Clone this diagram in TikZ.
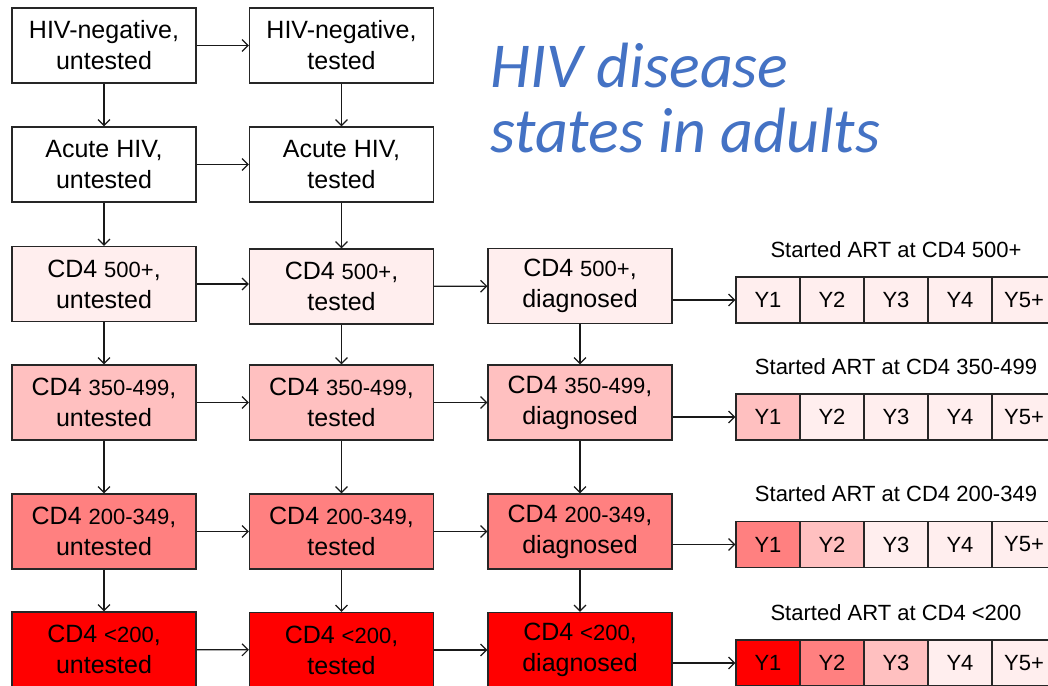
\documentclass[tikz,border=0pt]{standalone}
\usepackage{fontspec}
\setmainfont{Liberation Sans}
\newfontfamily\titlefont{Carlito}
\usetikzlibrary{arrows.meta}
\definecolor{cA}{HTML}{FFEEEE}
\definecolor{cB}{HTML}{FFC0C0}
\definecolor{cC}{HTML}{FF8080}
\definecolor{cD}{HTML}{FF0000}
\definecolor{titleblue}{HTML}{4472C4}
\newcommand\smallnum[1]{{\fontsize{22}{31}\selectfont #1}}
\begin{document}
\begin{tikzpicture}[x=1pt,y=-1pt,
  box/.style={draw=black!85, line width=1.2pt, minimum width=184pt, minimum height=75pt,
    align=center, font=\fontsize{25}{31}\selectfont, inner sep=0pt},
  ycell/.style={draw=black!85, line width=1.2pt, minimum width=64pt, minimum height=46pt,
    font=\fontsize{22}{25}\selectfont, inner sep=0pt},
  lab/.style={font=\fontsize{22}{25}\selectfont, inner sep=0pt},
  arr/.style={-{Straight Barb[length=6pt,width=12pt]}, line width=1.2pt, draw=black!90},
  ttl/.style={anchor=base west, text=titleblue, inner sep=0pt,
    font=\titlefont\itshape\fontsize{64}{64}\selectfont}]
\useasboundingbox (0,0) rectangle (1048,685);
\clip (0,0) rectangle (1048,685);
\fill[white] (0,0) rectangle (1048,685);

% title
\node[ttl] (t1) at (490,87) {HIV disease};
\node[ttl] (t2) at (490,152) {states in adults};

% column 1
\node[box] (a1) at (104,45.5) {HIV-negative,\\untested};
\node[box] (a2) at (104,164.5) {Acute HIV,\\untested};
\node[box, fill=cA] (a3) at (104,284) {CD4 \smallnum{500+},\\untested};
\node[box, fill=cB] (a4) at (104,402.5) {CD4 \smallnum{350-499},\\untested};
\node[box, fill=cC] (a5) at (104,531.5) {CD4 \smallnum{200-349},\\untested};
\node[box, fill=cD] (a6) at (104,649.5) {CD4 \smallnum{<200},\\untested};

% column 2
\node[box] (b1) at (341.5,45.5) {HIV-negative,\\tested};
\node[box] (b2) at (341.5,164.5) {Acute HIV,\\tested};
\node[box, fill=cA] (b3) at (341.5,286.5) {CD4 \smallnum{500+},\\tested};
\node[box, fill=cB] (b4) at (341.5,402.5) {CD4 \smallnum{350-499},\\tested};
\node[box, fill=cC] (b5) at (341.5,531.5) {CD4 \smallnum{200-349},\\tested};
\node[box, fill=cD] (b6) at (341.5,650) {CD4 \smallnum{<200},\\tested};

% column 3
\node[box, fill=cA] (c3) at (580,286) {CD4 \smallnum{500+},\\diagnosed};
\node[box, fill=cB] (c4) at (580,402.5) {CD4 \smallnum{350-499},\\diagnosed};
\node[box, fill=cC] (c5) at (580,531.5) {CD4 \smallnum{200-349},\\diagnosed};
\node[box, fill=cD] (c6) at (580,650) {CD4 \smallnum{<200},\\diagnosed};

% ART labels
\node[lab] (l3) at (896,250) {Started ART at CD4 500+};
\node[lab] (l4) at (896,367) {Started ART at CD4 350-499};
\node[lab] (l5) at (896,494) {Started ART at CD4 200-349};
\node[lab] (l6) at (896,613) {Started ART at CD4 <200};

% Y cells row 3
\node[ycell, fill=cA] (y31) at (768,300) {Y1};
\node[ycell, fill=cA] (y32) at (832,300) {Y2};
\node[ycell, fill=cA] (y33) at (896,300) {Y3};
\node[ycell, fill=cA] (y34) at (960,300) {Y4};
\node[ycell, fill=cA] (y35) at (1024,300) {Y5+};
% row 4
\node[ycell, fill=cB] (y41) at (768,417) {Y1};
\node[ycell, fill=cA] (y42) at (832,417) {Y2};
\node[ycell, fill=cA] (y43) at (896,417) {Y3};
\node[ycell, fill=cA] (y44) at (960,417) {Y4};
\node[ycell, fill=cA] (y45) at (1024,417) {Y5+};
% row 5
\node[ycell, fill=cC] (y51) at (768,544.5) {Y1};
\node[ycell, fill=cB] (y52) at (832,544.5) {Y2};
\node[ycell, fill=cA] (y53) at (896,544.5) {Y3};
\node[ycell, fill=cA] (y54) at (960,544.5) {Y4};
\node[ycell, fill=cA] (y55) at (1024,544.5) {Y5+};
% row 6
\node[ycell, fill=cD] (y61) at (768,663) {Y1};
\node[ycell, fill=cC] (y62) at (832,663) {Y2};
\node[ycell, fill=cB] (y63) at (896,663) {Y3};
\node[ycell, fill=cA] (y64) at (960,663) {Y4};
\node[ycell, fill=cA] (y65) at (1024,663) {Y5+};

% vertical arrows
\draw[arr] (a1) -- (a2);
\draw[arr] (a2) -- (a3);
\draw[arr] (a3) -- (a4);
\draw[arr] (a4) -- (a5);
\draw[arr] (a5) -- (a6);
\draw[arr] (b1) -- (b2);
\draw[arr] (b2) -- (b3);
\draw[arr] (b3) -- (b4);
\draw[arr] (b4) -- (b5);
\draw[arr] (b5) -- (b6);
\draw[arr] (c3) -- (c4);
\draw[arr] (c4) -- (c5);
\draw[arr] (c5) -- (c6);

% horizontal arrows
\draw[arr] (a1) -- (b1);
\draw[arr] (a2) -- (b2);
\draw[arr] (a3.east) -- (a3.east -| b3.west);
\draw[arr] (a4) -- (b4);
\draw[arr] (a5) -- (b5);
\draw[arr] (a6) -- (b6);
\draw[arr] (b3) -- (c3);
\draw[arr] (b4) -- (c4);
\draw[arr] (b5) -- (c5);
\draw[arr] (b6) -- (c6);

% to ART rows
\draw[arr] (c3.east |- y31) -- (y31);
\draw[arr] (c4.east |- y41) -- (y41);
\draw[arr] (c5.east |- y51) -- (y51);
\draw[arr] (c6.east |- y61) -- (y61);
\end{tikzpicture}
\end{document}
